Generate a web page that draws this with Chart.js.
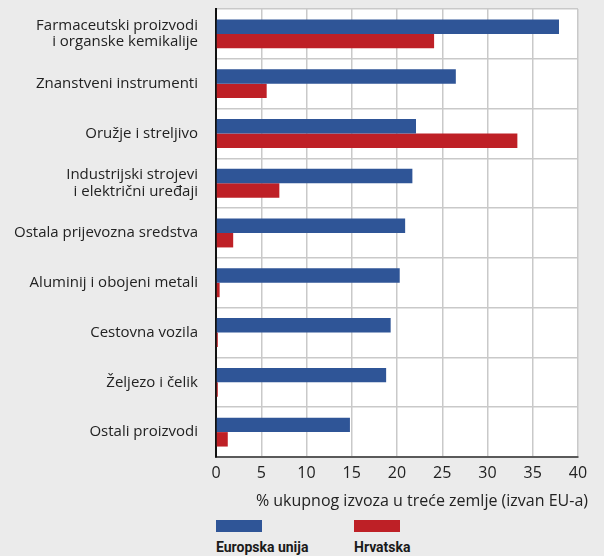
<!DOCTYPE html>
<html>
<head>
<meta charset="utf-8">
<script src="https://cdn.jsdelivr.net/npm/chart.js@4/dist/chart.umd.min.js"></script>
<style>
  html,body{margin:0;padding:0;background:#ebebeb;}
  #wrap{position:relative;width:604px;height:556px;background:#ebebeb;overflow:hidden;font-family:"Open Sans",Roboto,sans-serif;}
  #cv{position:absolute;left:0;top:0;}
  #xt{position:absolute;right:16px;top:490px;font-size:16px;color:#222;white-space:nowrap;line-height:20px;}
  .lg{position:absolute;top:520px;font-family:Roboto,"Noto Sans",sans-serif;}
  .lg .sw{width:46px;height:12px;}
  .lg .tx{margin-top:7px;font-weight:bold;font-size:14px;color:#1a1a1a;white-space:nowrap;}
</style>
</head>
<body>
<div id="wrap">
  <canvas id="cv" width="604" height="490"></canvas>
  <div id="xt"></div>
  <div class="lg" id="lg0" style="left:216px"><div class="sw"></div><div class="tx"></div></div>
  <div class="lg" id="lg1" style="left:354px"><div class="sw"></div><div class="tx"></div></div>
</div>
<script>
const categories = [
  ["Farmaceutski proizvodi", "i organske kemikalije"],
  "Znanstveni instrumenti",
  "Oružje i streljivo",
  ["Industrijski strojevi", "i električni uređaji"],
  "Ostala prijevozna sredstva",
  "Aluminij i obojeni metali",
  "Cestovna vozila",
  "Željezo i čelik",
  "Ostali proizvodi"
];
const seriesNames = ["Europska unija", "Hrvatska"];
const euValues = [37.9, 26.5, 22.1, 21.7, 20.9, 20.3, 19.3, 18.8, 14.8];
const hrValues = [24.1, 5.6, 33.3, 7.0, 1.9, 0.4, 0.2, 0.2, 1.3];
const xTicks = [0, 5, 10, 15, 20, 25, 30, 35, 40];
const xTitle = "% ukupnog izvoza u treće zemlje (izvan EU-a)";
const colors = ["#2f5597", "#be2026"];

const fontFam = '"Open Sans", Roboto, sans-serif';

const plotBg = {
  id: 'plotBg',
  beforeDraw(chart) {
    const {ctx, chartArea: a} = chart;
    ctx.save();
    ctx.fillStyle = '#ffffff';
    ctx.fillRect(a.left, a.top, a.right - a.left, a.bottom - a.top);
    ctx.restore();
  }
};

new Chart(document.getElementById('cv'), {
  type: 'bar',
  data: {
    labels: categories,
    datasets: [
      {label: seriesNames[0], data: euValues, backgroundColor: colors[0]},
      {label: seriesNames[1], data: hrValues, backgroundColor: colors[1]}
    ]
  },
  options: {
    indexAxis: 'y',
    responsive: false,
    animation: false,
    events: [],
    layout: {padding: {top: 9, right: 26, left: 0, bottom: 0}},
    datasets: {bar: {categoryPercentage: 0.58, barPercentage: 1.0}},
    plugins: {legend: {display: false}, tooltip: {enabled: false}},
    scales: {
      x: {
        min: 0, max: 40,
        afterFit(s) { s.height = 33; s.paddingLeft = 0; s.paddingRight = 0; },
        afterBuildTicks(s) { s.ticks = xTicks.map(v => ({value: v})); },
        grid: {color: '#c9c9c9', lineWidth: 1.5, drawTicks: false},
        border: {color: '#5a5a5a', width: 2},
        ticks: {padding: 7, color: '#222', font: {family: fontFam, size: 16}}
      },
      y: {
        afterFit(s) { s.width = 216; s.paddingTop = 0; s.paddingBottom = 0; },
        grid: {color: '#c9c9c9', lineWidth: 1.5, drawTicks: false, offset: true},
        border: {color: '#111', width: 2},
        ticks: {padding: 18, color: '#222', font: {family: fontFam, size: 15, lineHeight: 1.07}}
      }
    }
  },
  plugins: [plotBg]
});

document.getElementById('xt').textContent = xTitle;
[0, 1].forEach(i => {
  const el = document.getElementById('lg' + i);
  el.querySelector('.sw').style.background = colors[i];
  el.querySelector('.tx').textContent = seriesNames[i];
});
</script>
</body>
</html>
